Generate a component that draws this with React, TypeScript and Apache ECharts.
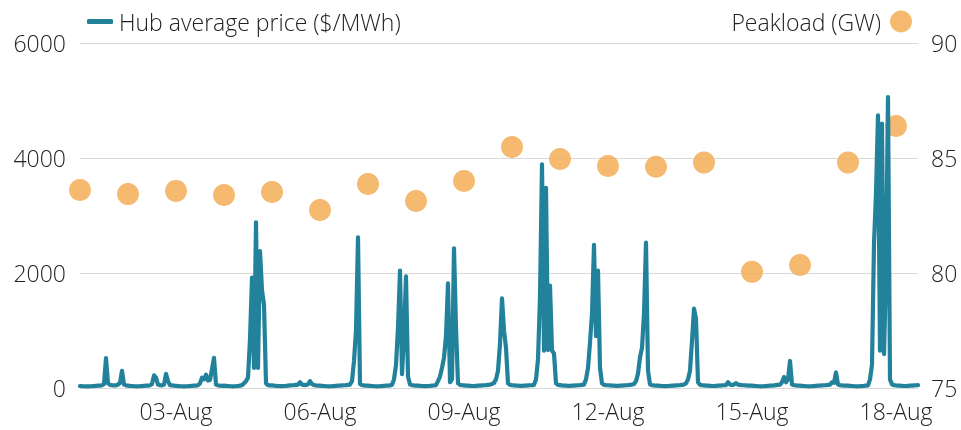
import React, { useEffect, useRef } from "react";
import * as echarts from "echarts";

// Hub average price ($/MWh), hourly from 01-Aug 00:00, 24 values per day
const priceAug01 = [35,32,30,28,28,30,32,35,38,40,42,48,70,520,80,55,48,45,45,60,90,300,60,45];
const priceAug02 = [42,38,35,32,30,30,32,35,38,40,42,45,70,220,180,60,50,45,60,245,120,50,45,40];
const priceAug03 = [38,35,32,30,30,30,32,35,38,40,42,48,80,180,150,230,130,140,330,525,60,45,40,38];
const priceAug04 = [40,38,35,32,30,30,32,35,40,50,80,120,180,850,1920,350,2880,350,2380,1700,1450,80,50,45];
const priceAug05 = [45,40,38,35,32,32,35,38,42,45,48,50,55,60,100,60,55,50,65,120,70,50,45,42];
const priceAug06 = [40,38,35,32,30,30,32,35,38,40,42,45,48,50,55,60,120,470,1000,2620,70,50,45,42];
const priceAug07 = [40,38,35,32,30,30,32,35,38,40,42,45,55,150,400,1050,2040,240,900,1940,200,60,50,45];
const priceAug08 = [42,40,38,35,32,32,35,38,42,45,50,120,200,350,530,900,1820,100,150,2430,1050,80,55,48];
const priceAug09 = [45,42,40,38,35,35,38,40,42,45,48,50,55,60,70,90,150,300,770,1560,1000,700,80,55];
const priceAug10 = [48,45,42,40,38,38,40,42,45,48,50,55,150,500,1580,3890,650,3480,660,1780,650,600,80,55];
const priceAug11 = [50,45,42,40,38,38,40,42,45,48,50,55,60,150,350,790,1290,2490,900,2040,350,80,55,50];
const priceAug12 = [48,45,42,40,38,38,40,42,45,48,50,55,60,70,120,250,530,700,1290,2530,300,60,50,45];
const priceAug13 = [42,40,38,35,32,32,35,38,40,42,45,48,50,55,60,80,150,300,820,1380,1200,100,55,48];
const priceAug14 = [45,42,40,38,35,35,38,40,42,45,48,50,100,60,55,60,85,60,55,50,48,45,42,40];
const priceAug15 = [40,38,35,32,30,30,32,35,38,40,42,45,50,55,60,100,190,100,150,470,60,50,45,42];
const priceAug16 = [40,38,35,32,30,30,32,35,38,40,42,45,48,50,55,60,100,90,270,60,50,45,42,40];
const priceAug17 = [40,38,35,32,30,30,32,35,38,42,45,150,410,2510,3380,4740,650,4600,590,2000,5060,150,60,50];
const priceAug18 = [45,42,40,38,35,35,38,40,42,45,48,50];

// Daily peakload (GW), one per day 01-Aug .. 18-Aug
const peakloadGW = [83.61,83.43,83.57,83.39,83.52,82.74,83.87,83.13,84.0,85.48,84.96,84.65,84.62,84.8,80.05,80.35,84.8,86.39];

const dayLabels = ["01-Aug","02-Aug","03-Aug","04-Aug","05-Aug","06-Aug","07-Aug","08-Aug","09-Aug","10-Aug","11-Aug","12-Aug","13-Aug","14-Aug","15-Aug","16-Aug","17-Aug","18-Aug"];

const priceName = "Hub average price ($/MWh)";
const loadName = "Peakload (GW)";

const FONT = "Open Sans";
const FS = 23;
const TEXT = "#222222";

export default function App() {
  const ref = useRef<HTMLDivElement>(null);
  useEffect(() => {
    if (!ref.current) return;
    const chart = echarts.init(ref.current, undefined, { renderer: "svg" });
    const hourly = [
      ...priceAug01, ...priceAug02, ...priceAug03, ...priceAug04, ...priceAug05, ...priceAug06,
      ...priceAug07, ...priceAug08, ...priceAug09, ...priceAug10, ...priceAug11, ...priceAug12,
      ...priceAug13, ...priceAug14, ...priceAug15, ...priceAug16, ...priceAug17, ...priceAug18,
    ];
    const priceData = hourly.map((v, i) => [i, v]);
    const loadData = peakloadGW.map((v, d) => [d * 24, v]);
    const labelStyle = { fontFamily: FONT, fontSize: FS, fontWeight: 300, color: TEXT };
    chart.setOption({
      animation: false,
      textStyle: { fontFamily: FONT },
      grid: { left: 80, right: 43, top: 43, bottom: 42 },
      legend: [
        {
          left: 82,
          top: 5,
          data: [{ name: priceName, icon: "roundRect" }],
          itemWidth: 26,
          itemHeight: 5,
          textStyle: { ...labelStyle, padding: [0, 0, 0, 1] },
        },
        {
          right: 44,
          top: 5,
          align: "right",
          data: [{ name: loadName, icon: "circle" }],
          itemWidth: 22,
          itemHeight: 22,
          textStyle: { ...labelStyle, padding: [0, 4, 0, 0] },
        },
      ],
      xAxis: {
        type: "value",
        min: 0,
        max: hourly.length - 1,
        interval: 24,
        axisLine: { show: false },
        axisTick: { show: false },
        splitLine: { show: false },
        axisLabel: {
          ...labelStyle,
          margin: 11,
          showMaxLabel: false,
          formatter: (v: number) => {
            if (v % 24 !== 0) return "";
            const d = Math.round(v / 24);
            return d >= 2 && (d - 2) % 3 === 0 ? dayLabels[d] : "";
          },
        },
      },
      yAxis: [
        {
          type: "value",
          min: 0,
          max: 6000,
          interval: 2000,
          axisLine: { show: false },
          axisTick: { show: false },
          splitLine: { show: true, lineStyle: { color: "#d9d9d9", width: 1 } },
          axisLabel: { ...labelStyle, margin: 14, padding: [6, 0, 0, 0], formatter: (v: number) => String(v) },
        },
        {
          type: "value",
          min: 75,
          max: 90,
          interval: 5,
          axisLine: { show: false },
          axisTick: { show: false },
          splitLine: { show: false },
          axisLabel: { ...labelStyle, margin: 13, padding: [6, 0, 0, 0] },
        },
      ],
      series: [
        {
          name: loadName,
          type: "scatter",
          yAxisIndex: 1,
          data: loadData,
          symbolSize: 22,
          clip: false,
          z: 2,
          itemStyle: { color: "#F2A74B" },
        },
        {
          name: priceName,
          type: "line",
          yAxisIndex: 0,
          data: priceData,
          showSymbol: false,
          z: 3,
          lineStyle: { color: "#23829B", width: 4.2, join: "round", cap: "round" },
          itemStyle: { color: "#23829B" },
        },
      ],
    });
    return () => chart.dispose();
  }, []);
  return <div ref={ref} style={{ position: "fixed", left: 0, top: 0, width: 961, height: 430 }} />;
}
